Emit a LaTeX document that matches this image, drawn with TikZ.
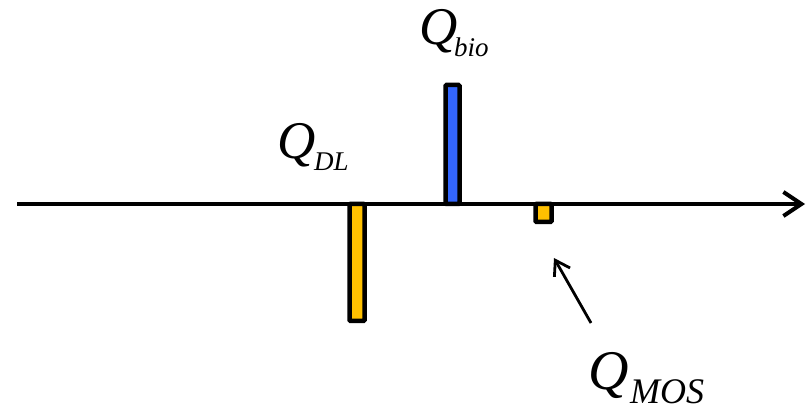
\documentclass[tikz,border=0pt]{standalone}
\usepackage{fontspec}
\setmainfont{Liberation Serif}
\usetikzlibrary{arrows.meta}
\definecolor{baryellow}{HTML}{FFC000}
\definecolor{barblue}{HTML}{3366FF}
\tikzset{
  bar/.style={draw=black, line width=4.5pt, rounded corners=1pt},
  axisline/.style={line width=4pt, -{Straight Barb[length=18pt,width=24pt,line width=4pt]}},
  pointer/.style={line width=2.8pt, -{Straight Barb[length=14pt,width=18pt,line width=2.8pt]}},
  bigq/.style={inner sep=0pt, anchor=base west, font=\fontsize{53}{53}\selectfont\itshape},
  subq/.style={inner sep=0pt, anchor=base west, font=\fontsize{27}{27}\selectfont\itshape},
}
\begin{document}
\begin{tikzpicture}[x=1pt,y=-1pt]
\useasboundingbox (0,0) rectangle (811,411);
% bars
\filldraw[bar, fill=baryellow] (349.5,204) rectangle (364.5,321);
\filldraw[bar, fill=barblue] (445.5,85) rectangle (459.5,204);
\filldraw[bar, fill=baryellow] (535.5,204) rectangle (551.5,222);
% axis
\coordinate (axL) at (17,204);
\coordinate (axR) at (805,204);
\draw[axisline] (axL) -- (axR);
% pointer
\coordinate (pS) at (591,323);
\coordinate (pE) at (554,258);
\draw[pointer] (pS) -- (pE);
% labels
\node[bigq] (qbio) at (419,45) {Q};
\node[subq] (qbios) at (454,57) {bio};
\node[bigq] (qdl) at (277,159) {Q};
\node[subq] (qdls) at (314,171) {DL};
\node[bigq, font=\fontsize{56}{56}\selectfont\itshape] (qmos) at (588,389) {Q};
\node[subq, font=\fontsize{36}{36}\selectfont\itshape] (qmoss) at (630,403) {MOS};
\end{tikzpicture}
\end{document}
